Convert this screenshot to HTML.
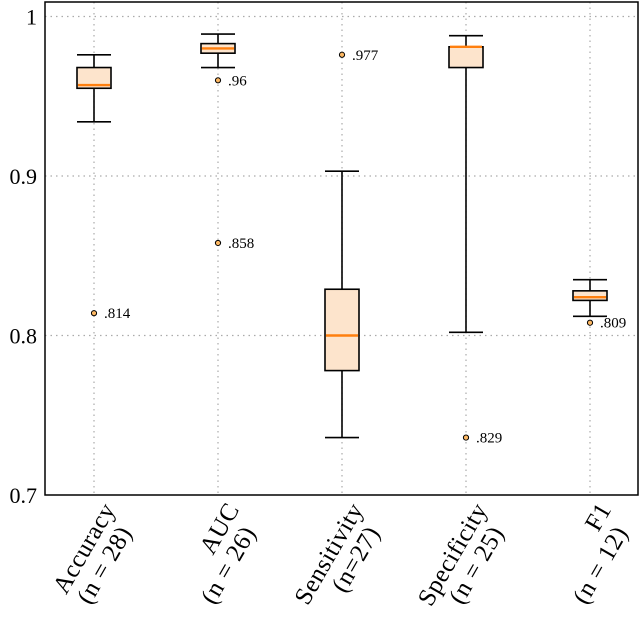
<!DOCTYPE html>
<html><head><meta charset="utf-8"><style>
body{margin:0;background:#fff}
svg text{font-family:"Liberation Serif",serif;fill:#000}
</style></head><body>
<svg id="chart" width="640" height="625"></svg>
<script>
const categories=["Accuracy","AUC","Sensitivity","Specificity","F1"];
const nLabels=["(n = 28)","(n = 26)","(n=27)","(n = 25)","(n = 12)"];
const whiskerLow=[0.934,0.968,0.736,0.802,0.812];
const q1=[0.955,0.977,0.778,0.968,0.822];
const median=[0.957,0.980,0.800,0.981,0.824];
const q3=[0.968,0.983,0.829,0.981,0.828];
const whiskerHigh=[0.976,0.989,0.903,0.988,0.835];
const outlierCat=[0,1,1,2,3,4];
const outlierVal=[0.814,0.960,0.858,0.976,0.736,0.808];
const outlierText=[".814",".96",".858",".977",".829",".809"];
const yTicks=[0.7,0.8,0.9,1];
const yTickLabels=["0.7","0.8","0.9","1"];

const NS="http://www.w3.org/2000/svg";
const svg=document.getElementById('chart');
const L=45,R=638,T=2,B=495;
const y=v=>B-(v-0.7)*1595;
const x=i=>94+i*124;
function mk(t,a){const e=document.createElementNS(NS,t);for(const k in a)e.setAttribute(k,a[k]);svg.appendChild(e);return e;}
yTicks.forEach((v,i)=>{
 if(v>0.7){const g=mk('line',{x1:L,x2:R,y1:y(v),y2:y(v),stroke:'#aaa','stroke-dasharray':'1.5 4','stroke-width':1.2});
 
 }
 const t=mk('text',{x:L-8,y:y(v)+8,'text-anchor':'end','font-size':22});t.textContent=yTickLabels[i];
 
 
});
categories.forEach((c,i)=>{
 const g=mk('line',{x1:x(i),x2:x(i),y1:T,y2:B,stroke:'#aaa','stroke-dasharray':'1.5 4','stroke-width':1.2});
 
 
});
const fr=mk('rect',{x:L,y:T,width:R-L,height:B-T,fill:'none',stroke:'#000','stroke-width':1.5});


categories.forEach((c,i)=>{
 const cx=x(i),hw=17,cw=17;
 const g=mk('g',{});
 
 
 const ln=(x1,y1,x2,y2,col,w)=>{const e=document.createElementNS(NS,'line');e.setAttribute('x1',x1);e.setAttribute('y1',y1);e.setAttribute('x2',x2);e.setAttribute('y2',y2);e.setAttribute('stroke',col);e.setAttribute('stroke-width',w);g.appendChild(e);};
 ln(cx,y(whiskerHigh[i]),cx,y(q3[i]),'#000',1.6);
 ln(cx,y(q1[i]),cx,y(whiskerLow[i]),'#000',1.6);
 ln(cx-cw,y(whiskerHigh[i]),cx+cw,y(whiskerHigh[i]),'#000',1.6);
 ln(cx-cw,y(whiskerLow[i]),cx+cw,y(whiskerLow[i]),'#000',1.6);
 const r=document.createElementNS(NS,'rect');
 r.setAttribute('x',cx-hw);r.setAttribute('y',y(q3[i]));r.setAttribute('width',2*hw);r.setAttribute('height',Math.max(1,y(q1[i])-y(q3[i])));
 r.setAttribute('fill','#fde4cc');r.setAttribute('stroke','#000');r.setAttribute('stroke-width',1.6);g.appendChild(r);
 ln(cx-hw+1,y(median[i]),cx+hw-1,y(median[i]),'#ff7f0e',2.4);
 const t=mk('text',{'font-size':25,'letter-spacing':0.5,'text-anchor':'end',transform:`translate(${cx+22},${B+14}) rotate(-60)`});
 
 
 const s1=document.createElementNS(NS,'tspan');s1.setAttribute('x',0);s1.setAttribute('y',0);s1.textContent=c;t.appendChild(s1);
 const s2=document.createElementNS(NS,'tspan');s2.setAttribute('x',-12);s2.setAttribute('y',26);s2.textContent=nLabels[i];t.appendChild(s2);
});
outlierVal.forEach((v,k)=>{
 const cx=x(outlierCat[k]);
 const c=mk('circle',{cx:cx,cy:y(v),r:2.6,fill:'#fdb863',stroke:'#000','stroke-width':1});
 
 
 const t=mk('text',{x:cx+10,y:y(v)+5,'font-size':15});t.textContent=outlierText[k];
 
 
});
</script>
</body></html>
